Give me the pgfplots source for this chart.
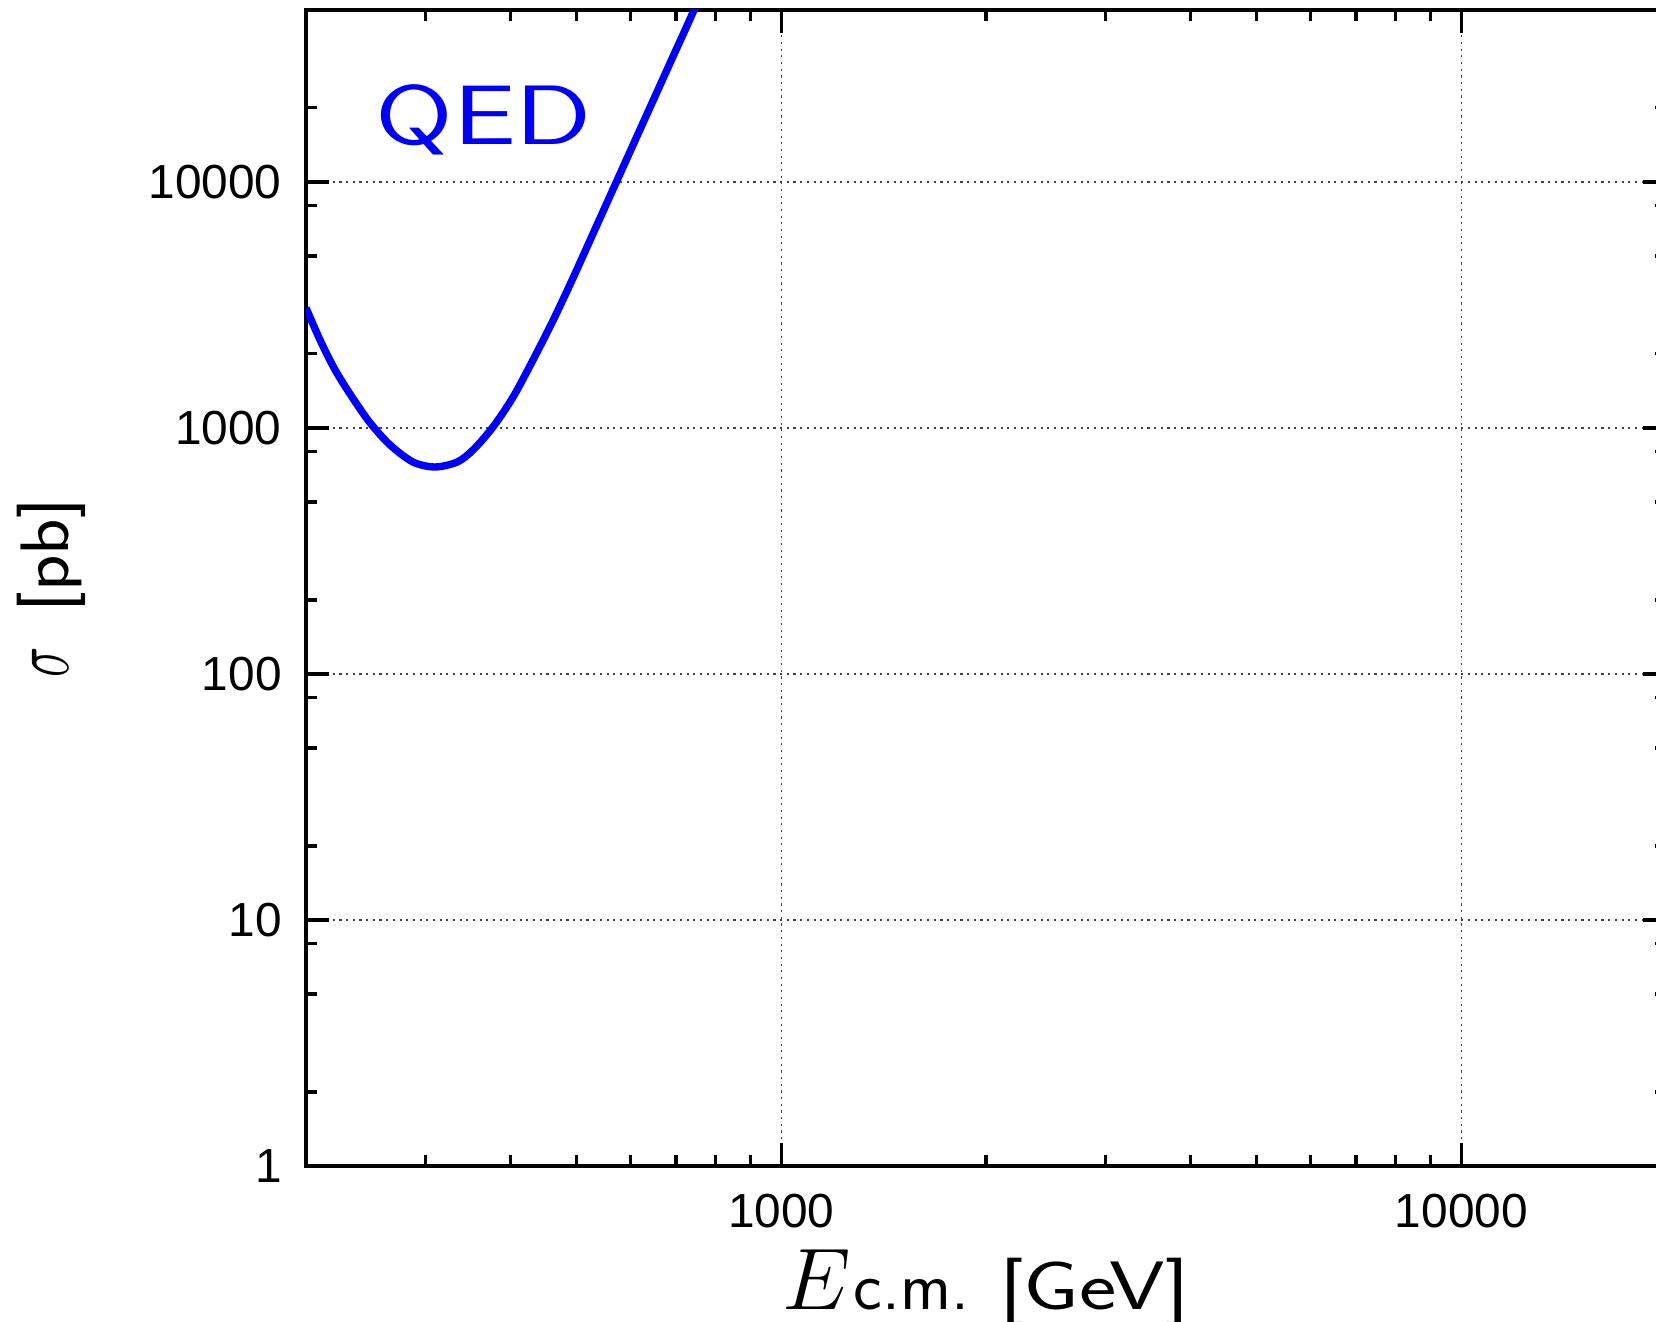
\documentclass[border=0pt]{standalone}
\usepackage{fontspec}
\setmainfont{Liberation Sans}
\usepackage{graphicx}
\usepackage{pgfplots}
\pgfplotsset{compat=1.18}
\begin{document}
\begin{tikzpicture}
\path[use as bounding box, clip] (0,0) rectangle (16.56cm,13.22cm);
\begin{axis}[
  at={(3.06cm,1.56cm)}, anchor=south west,
  scale only axis, width=13.6cm, height=11.56cm,
  xmode=log, ymode=log,
  xmin=200, xmax=20000, ymin=1, ymax=50000,
  axis line style={line width=0.95pt},
  every tick/.style={black, line width=0.9pt},
  major tick length=0.23cm, minor tick length=0.11cm,
  tick align=inside,
  xtick={100,1000,10000}, xticklabels={100,1000,10000},
  ytick={1,10,100,1000,10000}, yticklabels={1,10,100,1000,10000},
  minor ytick={2,5,8,20,50,80,200,500,800,2000,5000,8000,20000,50000},
  grid=major,
  major grid style={black!75, line width=0.45pt, dash pattern=on 0.6pt off 1.3pt},
  /pgf/number format/assume math mode=true,
  ticklabel style={font=\fontsize{13.6}{13.6}\selectfont},
  yticklabel style={xshift=-0.12cm},
  xticklabel style={yshift=-0.16cm},
  xlabel={\fontsize{23}{23}\selectfont$E$\hspace{0.03cm}{\fontsize{19.5}{19.5}\selectfont\textsf{c.m.}}\hspace{0.3cm}\scalebox{1.3}[1]{\fontsize{19.5}{19.5}\selectfont\textsf{[GeV]}}},
  ylabel={\scalebox{0.7}[1.15]{\fontsize{22}{22}\selectfont$\sigma$}\hspace{0.35cm}\scalebox{1.1}[1]{\fontsize{19.5}{19.5}\selectfont\textsf{[pb]}}},
  xlabel style={at={(axis description cs:0.5,0)}, anchor=base, yshift=-1.44cm},
  ylabel style={at={(axis description cs:0,0.5)}, anchor=base, yshift=2.38cm},
]
\addplot[blue, line width=2.1pt, smooth] coordinates {
(200,3076) (209.7,2279) (220.7,1721) (233.7,1336) (248.5,1048) (265.8,853)
(287.3,727) (309.5,694) (333.6,727) (352.1,814) (376.7,1009) (403.2,1336)
(431.3,1889) (461.5,2729) (494.0,4074) (528.6,6166) (565.6,9333) (605.2,14125)
(647.6,21380) (693.0,32360) (741.6,48980) (790,75000)
};
\node[blue, font=\sffamily\fontsize{24}{24}\selectfont] at (axis cs:365,17900) {\scalebox{1.33}[1]{QED}};
\end{axis}
\end{tikzpicture}
\end{document}
